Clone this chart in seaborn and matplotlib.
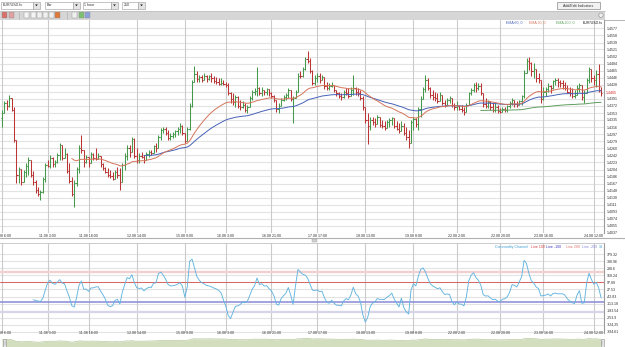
import numpy as np
import pandas as pd
import matplotlib
matplotlib.use("Agg")
import matplotlib.pyplot as plt
import matplotlib.transforms as mtransforms
from matplotlib.patches import Rectangle, Polygon, Circle
import seaborn as sns

# ---------------- data (hourly EUR/USD bars) ----------------
highs = [
    1.4361, 1.4384, 1.4388, 1.4401, 1.4392, 1.4370, 1.4282, 1.4212, 1.4203, 1.4203,
    1.4221, 1.4238, 1.4212, 1.4199, 1.4177, 1.4159, 1.4150, 1.4185, 1.4221, 1.4229,
    1.4243, 1.4238, 1.4229, 1.4247, 1.4273, 1.4269, 1.4260, 1.4247, 1.4221, 1.4185,
    1.4177, 1.4212, 1.4269, 1.4295, 1.4256, 1.4243, 1.4238, 1.4251, 1.4247, 1.4260,
    1.4247, 1.4238, 1.4221, 1.4212, 1.4207, 1.4203, 1.4198, 1.4203, 1.4212, 1.4207,
    1.4221, 1.4247, 1.4269, 1.4269, 1.4291, 1.4287, 1.4260, 1.4247, 1.4251, 1.4243,
    1.4251, 1.4256, 1.4256, 1.4269, 1.4273, 1.4295, 1.4313, 1.4317, 1.4317, 1.4309,
    1.4300, 1.4304, 1.4309, 1.4317, 1.4326, 1.4322, 1.4300, 1.4317, 1.4379, 1.4441,
    1.4477, 1.4463, 1.4454, 1.4454, 1.4458, 1.4454, 1.4454, 1.4458, 1.4450, 1.4449,
    1.4445, 1.4445, 1.4441, 1.4436, 1.4432, 1.4410, 1.4405, 1.4401, 1.4397, 1.4388,
    1.4384, 1.4379, 1.4375, 1.4397, 1.4414, 1.4419, 1.4474, 1.4423, 1.4423, 1.4414,
    1.4419, 1.4414, 1.4410, 1.4401, 1.4388, 1.4379, 1.4392, 1.4401, 1.4405, 1.4419,
    1.4401, 1.4397, 1.4414, 1.4458, 1.4463, 1.4476, 1.4502, 1.4517, 1.4498, 1.4467,
    1.4454, 1.4458, 1.4458, 1.4454, 1.4445, 1.4436, 1.4432, 1.4436, 1.4427, 1.4414,
    1.4410, 1.4405, 1.4414, 1.4419, 1.4419, 1.4423, 1.4454, 1.4423, 1.4419, 1.4414,
    1.4397, 1.4370, 1.4353, 1.4344, 1.4344, 1.4340, 1.4348, 1.4344, 1.4335, 1.4331,
    1.4335, 1.4340, 1.4344, 1.4335, 1.4331, 1.4326, 1.4331, 1.4326, 1.4317, 1.4309,
    1.4335, 1.4344, 1.4340, 1.4370, 1.4397, 1.4423, 1.4454, 1.4445, 1.4423, 1.4414,
    1.4410, 1.4405, 1.4410, 1.4401, 1.4388, 1.4392, 1.4397, 1.4388, 1.4379, 1.4384,
    1.4375, 1.4375, 1.4370, 1.4379, 1.4410, 1.4419, 1.4432, 1.4436, 1.4432, 1.4432,
    1.4397, 1.4392, 1.4388, 1.4384, 1.4379, 1.4379, 1.4375, 1.4366, 1.4370, 1.4370,
    1.4375, 1.4384, 1.4392, 1.4388, 1.4384, 1.4388, 1.4401, 1.4467, 1.4498, 1.4500,
    1.4489, 1.4485, 1.4467, 1.4458, 1.4436, 1.4423, 1.4423, 1.4432, 1.4427, 1.4441,
    1.4445, 1.4445, 1.4441, 1.4441, 1.4436, 1.4427, 1.4423, 1.4419, 1.4414, 1.4427,
    1.4432, 1.4423, 1.4414, 1.4445, 1.4476, 1.4467, 1.4454, 1.4467, 1.4482, 1.4423,
]
lows = [
    1.4317, 1.4352, 1.4361, 1.4370, 1.4358, 1.4278, 1.4168, 1.4168, 1.4163, 1.4177,
    1.4185, 1.4190, 1.4185, 1.4163, 1.4141, 1.4133, 1.4124, 1.4141, 1.4170, 1.4210,
    1.4207, 1.4210, 1.4212, 1.4220, 1.4228, 1.4230, 1.4238, 1.4194, 1.4168, 1.4133,
    1.4104, 1.4160, 1.4194, 1.4247, 1.4212, 1.4220, 1.4212, 1.4220, 1.4229, 1.4229,
    1.4234, 1.4212, 1.4203, 1.4194, 1.4185, 1.4181, 1.4177, 1.4185, 1.4181, 1.4150,
    1.4194, 1.4203, 1.4229, 1.4238, 1.4251, 1.4234, 1.4221, 1.4221, 1.4234, 1.4221,
    1.4229, 1.4238, 1.4243, 1.4247, 1.4251, 1.4264, 1.4282, 1.4300, 1.4295, 1.4282,
    1.4282, 1.4287, 1.4291, 1.4295, 1.4300, 1.4295, 1.4273, 1.4287, 1.4309, 1.4370,
    1.4436, 1.4436, 1.4436, 1.4436, 1.4441, 1.4436, 1.4441, 1.4436, 1.4432, 1.4430,
    1.4427, 1.4427, 1.4427, 1.4423, 1.4401, 1.4379, 1.4375, 1.4370, 1.4366, 1.4361,
    1.4366, 1.4357, 1.4354, 1.4370, 1.4388, 1.4401, 1.4397, 1.4401, 1.4397, 1.4401,
    1.4401, 1.4397, 1.4392, 1.4383, 1.4357, 1.4353, 1.4379, 1.4384, 1.4388, 1.4392,
    1.4384, 1.4326, 1.4392, 1.4427, 1.4445, 1.4449, 1.4467, 1.4485, 1.4458, 1.4427,
    1.4427, 1.4436, 1.4432, 1.4441, 1.4418, 1.4414, 1.4414, 1.4423, 1.4410, 1.4397,
    1.4392, 1.4388, 1.4392, 1.4401, 1.4392, 1.4397, 1.4401, 1.4401, 1.4397, 1.4388,
    1.4361, 1.4326, 1.4272, 1.4309, 1.4322, 1.4317, 1.4326, 1.4317, 1.4313, 1.4309,
    1.4317, 1.4317, 1.4322, 1.4313, 1.4309, 1.4300, 1.4309, 1.4295, 1.4282, 1.4260,
    1.4295, 1.4309, 1.4317, 1.4309, 1.4344, 1.4392, 1.4410, 1.4414, 1.4392, 1.4388,
    1.4384, 1.4379, 1.4388, 1.4375, 1.4370, 1.4375, 1.4379, 1.4370, 1.4361, 1.4361,
    1.4361, 1.4357, 1.4348, 1.4361, 1.4375, 1.4401, 1.4410, 1.4410, 1.4414, 1.4401,
    1.4370, 1.4366, 1.4366, 1.4361, 1.4357, 1.4357, 1.4353, 1.4353, 1.4357, 1.4357,
    1.4357, 1.4366, 1.4375, 1.4370, 1.4370, 1.4375, 1.4375, 1.4392, 1.4458, 1.4467,
    1.4450, 1.4445, 1.4436, 1.4432, 1.4379, 1.4388, 1.4397, 1.4410, 1.4405, 1.4418,
    1.4427, 1.4423, 1.4423, 1.4418, 1.4414, 1.4405, 1.4397, 1.4392, 1.4392, 1.4401,
    1.4410, 1.4388, 1.4379, 1.4423, 1.4432, 1.4436, 1.4427, 1.4423, 1.4410, 1.4397,
]
closes = [
    1.4352, 1.4379, 1.4372, 1.4392, 1.4362, 1.4282, 1.4190, 1.4205, 1.4172, 1.4198,
    1.4214, 1.4230, 1.4190, 1.4170, 1.4150, 1.4140, 1.4145, 1.4180, 1.4215, 1.4214,
    1.4235, 1.4218, 1.4225, 1.4242, 1.4268, 1.4235, 1.4245, 1.4200, 1.4175, 1.4140,
    1.4168, 1.4205, 1.4262, 1.4255, 1.4225, 1.4238, 1.4220, 1.4245, 1.4235, 1.4232,
    1.4240, 1.4218, 1.4207, 1.4198, 1.4190, 1.4186, 1.4180, 1.4198, 1.4190, 1.4170,
    1.4215, 1.4240, 1.4260, 1.4250, 1.4285, 1.4240, 1.4228, 1.4240, 1.4236, 1.4230,
    1.4245, 1.4250, 1.4248, 1.4265, 1.4262, 1.4290, 1.4308, 1.4312, 1.4300, 1.4288,
    1.4292, 1.4298, 1.4305, 1.4312, 1.4318, 1.4300, 1.4280, 1.4312, 1.4372, 1.4435,
    1.4455, 1.4442, 1.4448, 1.4440, 1.4450, 1.4442, 1.4450, 1.4445, 1.4438, 1.4434,
    1.4430, 1.4432, 1.4430, 1.4428, 1.4405, 1.4390, 1.4382, 1.4395, 1.4372, 1.4368,
    1.4375, 1.4360, 1.4370, 1.4392, 1.4410, 1.4412, 1.4420, 1.4405, 1.4415, 1.4410,
    1.4416, 1.4405, 1.4398, 1.4388, 1.4365, 1.4372, 1.4388, 1.4395, 1.4400, 1.4415,
    1.4390, 1.4392, 1.4410, 1.4452, 1.4450, 1.4470, 1.4495, 1.4490, 1.4465, 1.4432,
    1.4445, 1.4452, 1.4440, 1.4448, 1.4425, 1.4420, 1.4425, 1.4428, 1.4414, 1.4405,
    1.4398, 1.4395, 1.4410, 1.4405, 1.4398, 1.4415, 1.4420, 1.4410, 1.4405, 1.4392,
    1.4370, 1.4335, 1.4320, 1.4335, 1.4330, 1.4325, 1.4344, 1.4322, 1.4318, 1.4313,
    1.4330, 1.4335, 1.4340, 1.4318, 1.4312, 1.4305, 1.4320, 1.4300, 1.4290, 1.4275,
    1.4330, 1.4338, 1.4325, 1.4365, 1.4390, 1.4418, 1.4440, 1.4420, 1.4400, 1.4395,
    1.4392, 1.4385, 1.4402, 1.4380, 1.4375, 1.4388, 1.4392, 1.4375, 1.4368, 1.4372,
    1.4365, 1.4362, 1.4355, 1.4375, 1.4405, 1.4415, 1.4428, 1.4420, 1.4425, 1.4405,
    1.4378, 1.4372, 1.4382, 1.4370, 1.4362, 1.4368, 1.4358, 1.4357, 1.4365, 1.4362,
    1.4372, 1.4380, 1.4388, 1.4378, 1.4375, 1.4385, 1.4398, 1.4460, 1.4490, 1.4485,
    1.4465, 1.4470, 1.4445, 1.4440, 1.4390, 1.4410, 1.4418, 1.4425, 1.4420, 1.4438,
    1.4440, 1.4436, 1.4432, 1.4428, 1.4420, 1.4410, 1.4405, 1.4398, 1.4400, 1.4420,
    1.4428, 1.4395, 1.4405, 1.4440, 1.4470, 1.4445, 1.4440, 1.4455, 1.4415, 1.4405,
]
first_open = 1.4340

x_tick_bars = [0, 19, 36, 56, 76, 93, 112, 131, 151, 171, 189, 207, 225, 246]
x_tick_labels = ["10.08 6:00", "11.08 3:00", "11.08 18:00", "12.08 14:00", "15.08 9:00",
                 "16.08 3:00", "16.08 21:00", "17.08 17:00", "18.08 13:00", "19.08 8:00",
                 "22.08 2:00", "22.08 20:00", "23.08 16:00", "24.08 12:00"]
price_tick_labels = ["1.4577", "1.4558", "1.4539", "1.4521", "1.4502", "1.4484", "1.4465",
                     "1.4446", "1.4428", "1.4409", "1.4391", "1.4372", "1.4353", "1.4335",
                     "1.4316", "1.4297", "1.4279", "1.4260", "1.4242", "1.4223", "1.4204",
                     "1.4186", "1.4167", "1.4148", "1.4130", "1.4111", "1.4093", "1.4074",
                     "1.4055", "1.4037"]
cci_tick_labels = ["379.32", "308.96", "238.6", "168.24", "97.89", "27.53", "-42.83",
                   "-113.18", "-183.54", "-253.9", "-324.25", "-394.61"]
cci_levels = [200, 100, -100, -200]
ema_periods = [60, 30, 200]
cci_period = 14
toolbar_fields = ["EUR/USD.fx", "Bar", "1 hour", "250"]

# ---------------- indicators ----------------
n = len(closes)
df = pd.DataFrame({"bar": np.arange(n), "open": [first_open] + closes[:-1],
                   "high": highs, "low": lows, "close": closes})


def ema(values, period):
    s = pd.Series(values, dtype=float).ewm(span=period, adjust=False).mean()
    s.iloc[:period - 1] = np.nan
    return s.values


def cci(h, l, c, period):
    tp = (np.asarray(h) + np.asarray(l) + np.asarray(c)) / 3.0
    out = np.full(len(tp), np.nan)
    for k in range(period - 1, len(tp)):
        w = tp[k - period + 1:k + 1]
        m = w.mean()
        md = np.abs(w - m).mean()
        out[k] = (tp[k] - m) / (0.015 * md) if md > 0 else 0.0
    return out


for p in ema_periods:
    df[f"ema{p}"] = ema(df["close"], p)
df["cci"] = cci(df["high"], df["low"], df["close"], cci_period)

# ---------------- figure ----------------
sns.set_theme(style="white")
plt.rcParams["font.family"] = ["Liberation Sans", "DejaVu Sans"]
FS = 2.6
TXT = "#2e2e2e"

W, H = 625, 347
fig = plt.figure(figsize=(W / 100, H / 100), dpi=100, facecolor="white")


def box(x0, y0, x1, y1):
    return [x0 / W, 1 - y1 / H, (x1 - x0) / W, (y1 - y0) / H]


ax_bg = fig.add_axes([0, 0, 1, 1], zorder=0)
ax_bg.set_xlim(0, W)
ax_bg.set_ylim(H, 0)
ax_bg.axis("off")

# toolbar row 1 (dropdowns)
dd_geom = [(1, 33, 40), (45, 73, 80), (83, 111, 118), (122, 138, 145)]
for (x0, xb, xe), lab in zip(dd_geom, toolbar_fields):
    ax_bg.add_patch(Rectangle((x0, 2), xb - x0, 6.5, fc="white", ec="#9a9a9a", lw=0.4))
    ax_bg.add_patch(Rectangle((xb, 2), xe - xb, 6.5, fc="#e4e4e4", ec="#9a9a9a", lw=0.4))
    c = (xb + xe) / 2
    ax_bg.add_patch(Polygon([(c - 1.3, 4.4), (c + 1.3, 4.4), (c, 6.3)], closed=True, fc="#222222", ec="none"))
    ax_bg.text(x0 + 1.5, 5.4, lab, fontsize=FS, color=TXT, ha="left", va="center")
ax_bg.add_patch(Rectangle((557, 1.8), 43, 7.2, fc="#f2f2f2", ec="#8a8a8a", lw=0.5))
ax_bg.text(578.5, 5.5, "Add/Edit Indicators", fontsize=FS, color=TXT, ha="center", va="center")

# toolbar row 2 (icons)
ax_bg.add_patch(Rectangle((0, 10.5), 605, 9.5, fc="#d6d6d6", ec="none"))
ax_bg.plot([0, 605], [10.6, 10.6], color="#bdbdbd", lw=0.5)
icons = [(2, "#d9706a"), (9, "#e0a0a0"), (24, "#f4f4f4"), (30.5, "#f4f4f4"), (36.5, "#f0f0f0"),
         (42.5, "#f0f0f0"), (48.5, "#f0f0f0"), (54.5, "#e07838"), (72, "#f0f0f0"),
         (78.5, "#7cc070"), (85, "#8ca0dc")]
for x0, col in icons:
    ax_bg.add_patch(Rectangle((x0, 12.4), 5, 5.4, fc=col, ec="#8e8e8e", lw=0.3))
ax_bg.plot([19, 19], [12, 18.5], color="#a8a8a8", lw=0.4)
ax_bg.plot([67, 67], [12, 18.5], color="#a8a8a8", lw=0.4)
ax_bg.add_patch(Circle((601, 15.2), 2.2, fc="#eeeeee", ec="#8c8c8c", lw=0.4))
ax_bg.plot([0, 625], [20, 20], color="#a8a8a8", lw=0.6)

# panel separator
ax_bg.plot([0, 625], [238.4, 238.4], color="#b0b0b0", lw=0.8)
ax_bg.add_patch(Rectangle((311.5, 239.3), 5, 2.2, fc="#d0d0d0", ec="#a0a0a0", lw=0.3))

xlim = (-2 / 2.406, 602 / 2.406)
up = df["close"] >= df["open"]
bar_colors = np.where(up, "#45994a", "#bb3535")

# ---------------- price panel ----------------
ax = fig.add_axes(box(0, 20, 604, 233), zorder=1)
ax.set_facecolor("white")
ax.set_xlim(*xlim)
ax.set_ylim(1.40364, 1.45989)
price_ticks = [float(t) for t in price_tick_labels]
for t in price_ticks:
    ax.axhline(t, color="#e3e3e3", lw=0.8, zorder=0)
for b in x_tick_bars:
    ax.axvline(b, color="#cbcbcb", lw=0.8, zorder=0)

lo = np.minimum(df["low"], np.minimum(df["open"], df["close"]))
hi = np.maximum(df["high"], np.maximum(df["open"], df["close"]))
ax.vlines(df["bar"], lo, hi, colors=bar_colors, lw=0.75, zorder=2)
ax.hlines(df["open"], df["bar"] - 0.5, df["bar"], colors=bar_colors, lw=0.75, zorder=2)
ax.hlines(df["close"], df["bar"], df["bar"] + 0.5, colors=bar_colors, lw=0.75, zorder=2)

ema_colors = {60: "#4662b8", 30: "#d4745a", 200: "#5e9e5e"}
for p in ema_periods:
    d = df.dropna(subset=[f"ema{p}"])
    sns.lineplot(data=d, x="bar", y=f"ema{p}", ax=ax, color=ema_colors[p], linewidth=0.7,
                 legend=False, zorder=3)
ax.set_xlabel("")
ax.set_ylabel("")
ax.set_xticks([])
ax.set_yticks(price_ticks)
ax.set_yticklabels(["" if lab == "1.4409" else lab for lab in price_tick_labels])
ax.yaxis.tick_right()
ax.tick_params(axis="y", length=0, pad=2, labelsize=FS, labelcolor=TXT)
for s in ["left", "top", "bottom"]:
    ax.spines[s].set_visible(False)
ax.spines["right"].set_color("#9a9a9a")
ax.spines["right"].set_linewidth(0.8)

trx = mtransforms.blended_transform_factory(ax.transData, ax.transAxes)
for b, lab in zip(x_tick_bars, x_tick_labels):
    ax.text(b, -2.6 / 213, lab, transform=trx, ha="center", va="center", fontsize=FS,
            color=TXT, clip_on=False)
try_ = mtransforms.blended_transform_factory(ax.transAxes, ax.transData)
last = df["close"].iloc[-1]
ax.text(1 + 2 / 604, last, f"{last:.4f}", transform=try_, ha="left", va="center",
        fontsize=FS, color="#d42020", clip_on=False)

# legend of price panel
for x, lab, col in [(506, "EMA 60, 0", ema_colors[60]), (529, "EMA 30, 0", ema_colors[30]),
                    (556, "EMA 200, 0", ema_colors[200]), (583, "EUR/USD.fx", "#1a1a1a")]:
    fig.text(x / W, 1 - 22.6 / H, lab, fontsize=FS, color=col, ha="left", va="center", zorder=10)

# ---------------- CCI panel ----------------
ax2 = fig.add_axes(box(0, 243, 604, 332.5), zorder=1)
ax2.set_facecolor("white")
ax2.set_xlim(*xlim)
ax2.set_ylim(-402.7, 492.3)
cci_ticks = [float(t) for t in cci_tick_labels]
for t in cci_ticks:
    ax2.axhline(t, color="#e3e3e3", lw=0.8, zorder=0)
for b in x_tick_bars:
    ax2.axvline(b, color="#cbcbcb", lw=0.8, zorder=0)
level_style = {200: ("#f3d0d0", 1.7), 100: ("#d86262", 0.7), -100: ("#9292dc", 1.2),
               -200: ("#d6d6e8", 1.6)}
for lv in cci_levels:
    col, lw = level_style[lv]
    ax2.axhline(lv, color=col, lw=lw, zorder=1)
d = df.dropna(subset=["cci"])
sns.lineplot(data=d, x="bar", y="cci", ax=ax2, color="#62b4e0", linewidth=0.65, legend=False, zorder=3)
ax2.set_xlabel("")
ax2.set_ylabel("")
ax2.set_xticks([])
ax2.set_yticks(cci_ticks)
ax2.set_yticklabels(cci_tick_labels)
ax2.yaxis.tick_right()
ax2.tick_params(axis="y", length=0, pad=2, labelsize=FS, labelcolor=TXT)
for s in ["left", "bottom"]:
    ax2.spines[s].set_visible(False)
ax2.spines["top"].set_color("#c4c4c4")
ax2.spines["top"].set_linewidth(0.6)
ax2.spines["right"].set_color("#9a9a9a")
ax2.spines["right"].set_linewidth(0.8)
trx2 = mtransforms.blended_transform_factory(ax2.transData, ax2.transAxes)
for b, lab in zip(x_tick_bars, x_tick_labels):
    ax2.text(b, -0.6 / 89.5, lab, transform=trx2, ha="center", va="center", fontsize=FS,
             color=TXT, clip_on=False)

for x, lab, col in [(495, "Commodity Channel", "#3d9fd4"), (531, "Line 100", "#d84040"),
                    (545.7, "Line -100", "#3c3cc0"), (566, "Line 200", "#e07070"),
                    (581.7, "Line -200", "#8a8ad8"), (598.5, "14", "#3d9fd4")]:
    fig.text(x / W, 1 - 246.8 / H, lab, fontsize=FS, color=col, ha="left", va="center", zorder=10)

# ---------------- navigator ----------------
ax3 = fig.add_axes(box(0, 337.5, 604, 347), zorder=1)
ax3.set_facecolor("none")
ax3.set_xlim(*xlim)
ax3.set_ylim(1.37, 1.457)
ax3.fill_between(df["bar"], df["close"], 1.30, color="#d3debf", lw=0)
sns.lineplot(data=df, x="bar", y="close", ax=ax3, color="#b9c9a0", linewidth=0.5, legend=False)
ax3.axis("off")

ax_top = fig.add_axes([0, 0, 1, 1], zorder=8)
ax_top.set_xlim(0, W)
ax_top.set_ylim(H, 0)
ax_top.axis("off")
ax_top.patch.set_alpha(0)
for x0 in (3, 600.8):
    ax_top.add_patch(Rectangle((x0, 338.5), 3, 8, fc="#e6e6e6", ec="#8f8f8f", lw=0.4))
    ax_top.plot([x0 + 1.5, x0 + 1.5], [340.5, 344.5], color="#8f8f8f", lw=0.3)

fig.savefig("out.png", dpi=100, facecolor="white")
